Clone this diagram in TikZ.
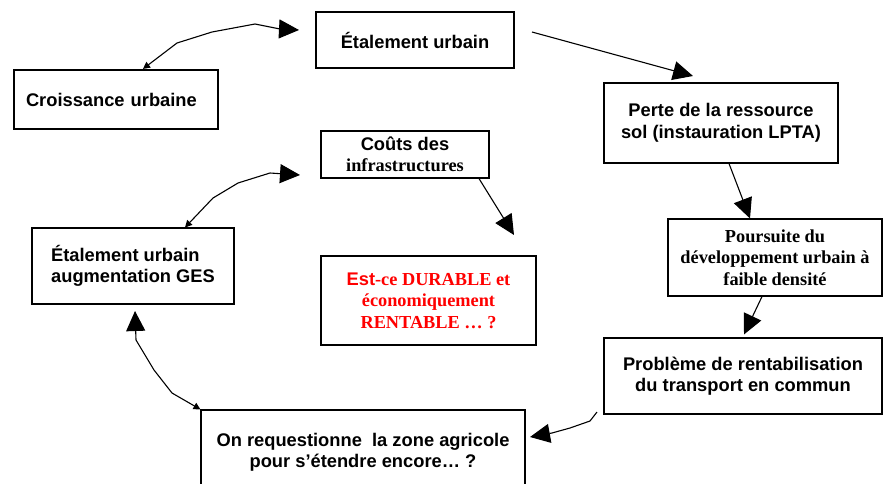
\documentclass[tikz,border=0pt]{standalone}
\usepackage{fontspec}
\setmainfont{Liberation Sans}
\newfontfamily\hel{Liberation Sans}
\newfontfamily\tms{Liberation Serif}
\usetikzlibrary{arrows.meta}
\begin{document}
\begin{tikzpicture}[x=1pt,y=-1pt,
  box/.style={draw, line width=1.1pt, inner sep=0pt, align=center,
    font=\fontsize{18.3}{21.5}\selectfont\bfseries},
  serifbox/.style={box, font=\fontsize{18.3}{21.5}\selectfont\tms\bfseries},
  conn/.style={line width=1.1pt, line join=round},
  big/.tip={Triangle[length=20pt,width=19pt]},
  small/.tip={Triangle[length=7pt,width=7pt]}]
\useasboundingbox (0,0) rectangle (883,483);
\fill[white] (0,0) rectangle (883,483);
\clip (0,0) rectangle (883,483);

% boxes
\node[box, minimum width=204pt, minimum height=59pt, line width=2.2pt,
      text width=180pt, align=left] (crois) at (116,99.5) {Croissance urbaine};
\node[box, minimum width=198pt, minimum height=56pt] (etal) at (415,40) {Étalement urbain};
\node[box, minimum width=234pt, minimum height=80pt] (perte) at (721,123)
  {Perte de la ressource\\sol (instauration LPTA)};
\node[serifbox, minimum width=214pt, minimum height=77pt] (pours) at (775,257.5)
  {Poursuite du\\développement urbain à\\faible densité};
\node[box, minimum width=278pt, minimum height=76pt] (prob) at (743,376)
  {Problème de rentabilisation\\du transport en commun};
\node[box, minimum width=324pt, minimum height=85pt] (onreq) at (363,452.5)
  {On requestionne\ \ la zone agricole\\pour s’étendre encore… ?};
\node[box, minimum width=202pt, minimum height=76pt, align=left] (ges) at (133,266)
  {Étalement urbain\\augmentation GES};
\node[box, minimum width=168pt, minimum height=47pt] (couts) at (405,154.5)
  {Coûts des\\{\tms infrastructures}};
\node[serifbox, minimum width=215pt, minimum height=89pt, text=red] (est) at (428.5,300.5)
  {{\hel Est}-ce DURABLE et\\économiquement\\RENTABLE … ?};

% free ends
\coordinate (t1) at (299,30);
\coordinate (a2s) at (532,32);
\coordinate (a2e) at (693,76);
\coordinate (a5s) at (597,412);
\coordinate (a5e) at (530,437);
\coordinate (t6) at (135,311);
\coordinate (t7) at (300,175);
\coordinate (t8) at (514,235);

% connectors
\draw[conn, {small}-{big}] (143,0 |- crois.north) -- (177,43) -- (212,32) -- (255,24) -- (280,29) -- (t1);
\draw[conn, -{big}] (a2s) -- (a2e);
\draw[conn, -{big}] (729,0 |- perte.south) -- (750,0 |- pours.north);
\draw[conn, -{big}] (762,0 |- pours.south) -- ([yshift=3pt]744,0 |- prob.north);
\draw[conn, -{big}] (a5s) -- (590,421) -- (570,428) -- (552,433) -- (a5e);
\draw[conn, {small}-{big}] (onreq.north west) -- (172,393) -- (154,370) -- (136,340) -- (t6);
\draw[conn, {small}-{big}] (185,0 |- ges.north) -- (213,198) -- (238,183) -- (270,173) -- (t7);
\draw[conn, -{big}] (479,0 |- couts.south) -- (t8);
\end{tikzpicture}
\end{document}
